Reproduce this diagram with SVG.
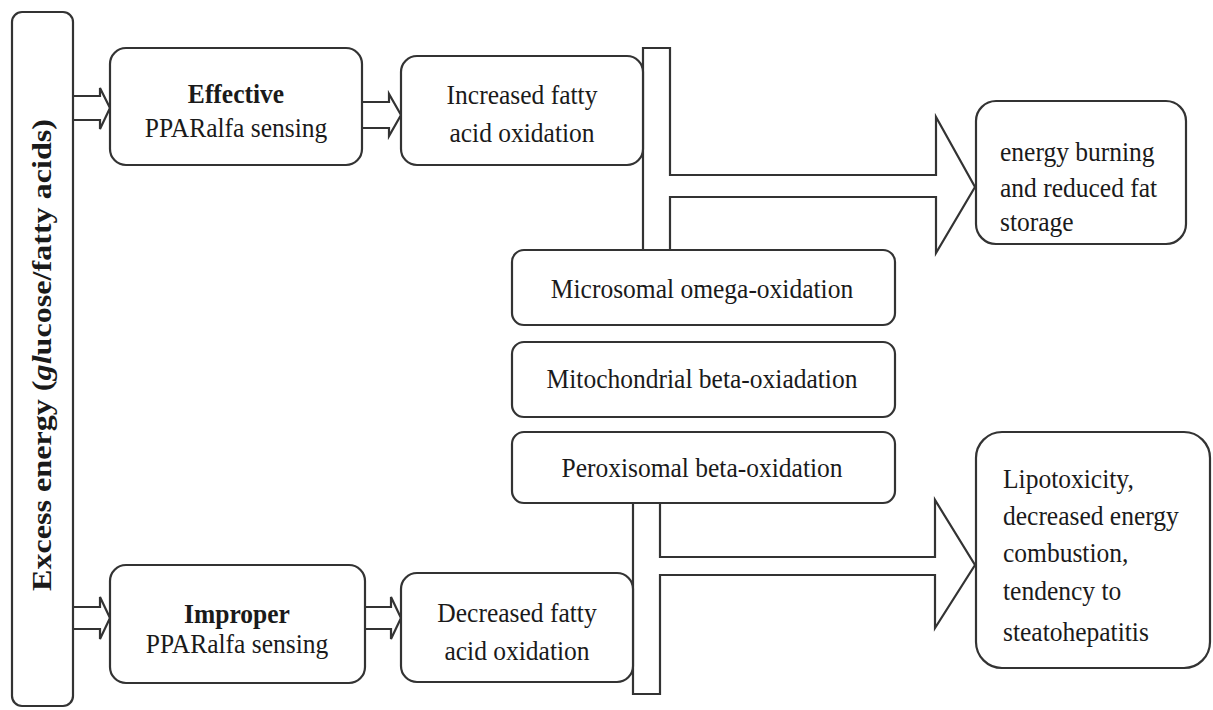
<svg xmlns="http://www.w3.org/2000/svg" width="1213" height="710" viewBox="0 0 1213 710">
<style>
.box{fill:#fff;stroke:#333;stroke-width:2.2}
.arr{fill:#fff;stroke:#333;stroke-width:2.2;stroke-linejoin:miter}
text{font-family:"Liberation Serif","Times New Roman",serif;font-size:27px;fill:#1a1a1a}
.c{text-anchor:middle}
.b{font-weight:bold}
</style>
<rect width="1213" height="710" fill="#fff"/>
<g id="connectors">
<path class="arr" d="M73,96 H100 V88 L110,108 L100,129 V120 H73"/>
<path class="arr" d="M362,102 H389 V94 L401,115 L389,136 V128 H362"/>
<path class="arr" d="M73,607 H100 V597 L110,618 L100,639 V629 H73"/>
<path class="arr" d="M365,607 H391 V597 L401,618 L391,639 V629 H365"/>
<path class="arr" d="M643,250 V48 H670 V175 H936 V117 L975,187 L936,253 V197 H670 V250"/>
<path class="arr" d="M633,503 V694 H660 V575 H935 V628 L975,565 L935,500 V557 H660 V503"/>
</g>
<g id="excess">
<rect class="box" x="12" y="12" width="61" height="694" rx="10"/>
<text class="b c" transform="translate(51,355) rotate(-90)" font-size="28" textLength="472" lengthAdjust="spacingAndGlyphs">Excess energy (<tspan font-style="italic">gl</tspan>ucose/fatty acids)</text>
</g>
<g id="effective">
<rect class="box" x="110" y="48" width="252" height="117" rx="16"/>
<text class="c b" transform="translate(236,103) scale(0.945,1)">Effective</text>
<text class="c" transform="translate(236,137) scale(0.945,1)">PPARalfa sensing</text>
</g>
<g id="increased">
<rect class="box" x="401" y="56" width="242" height="109" rx="16"/>
<text class="c" transform="translate(522,104) scale(0.945,1)">Increased fatty</text>
<text class="c" transform="translate(522,142) scale(0.945,1)">acid oxidation</text>
</g>
<g id="energy">
<rect class="box" x="976" y="101" width="210" height="143" rx="20"/>
<text transform="translate(1000,161) scale(0.945,1)">energy burning</text>
<text transform="translate(1000,197) scale(0.945,1)">and reduced fat</text>
<text transform="translate(1000,231) scale(0.945,1)">storage</text>
</g>
<g id="microsomal">
<rect class="box" x="512" y="250" width="383" height="75" rx="12"/>
<text class="c" transform="translate(702,298) scale(0.945,1)">Microsomal omega-oxidation</text>
</g>
<g id="mitochondrial">
<rect class="box" x="512" y="342" width="383" height="75" rx="12"/>
<text class="c" transform="translate(702,388) scale(0.945,1)">Mitochondrial beta-oxiadation</text>
</g>
<g id="peroxisomal">
<rect class="box" x="512" y="432" width="383" height="71" rx="12"/>
<text class="c" transform="translate(702,477) scale(0.945,1)">Peroxisomal beta-oxidation</text>
</g>
<g id="improper">
<rect class="box" x="110" y="565" width="255" height="118" rx="16"/>
<text class="c b" transform="translate(237,623) scale(0.945,1)">Improper</text>
<text class="c" transform="translate(237,653) scale(0.945,1)">PPARalfa sensing</text>
</g>
<g id="decreased">
<rect class="box" x="401" y="573" width="232" height="109" rx="16"/>
<text class="c" transform="translate(517,622) scale(0.945,1)">Decreased fatty</text>
<text class="c" transform="translate(517,660) scale(0.945,1)">acid oxidation</text>
</g>
<g id="lipotoxicity">
<rect class="box" x="976" y="432" width="234" height="236" rx="26"/>
<text transform="translate(1003,488) scale(0.945,1)">Lipotoxicity,</text>
<text transform="translate(1003,525) scale(0.945,1)">decreased energy</text>
<text transform="translate(1003,562) scale(0.945,1)">combustion,</text>
<text transform="translate(1003,600) scale(0.945,1)">tendency to</text>
<text transform="translate(1003,641) scale(0.945,1)">steatohepatitis</text>
</g>
</svg>
